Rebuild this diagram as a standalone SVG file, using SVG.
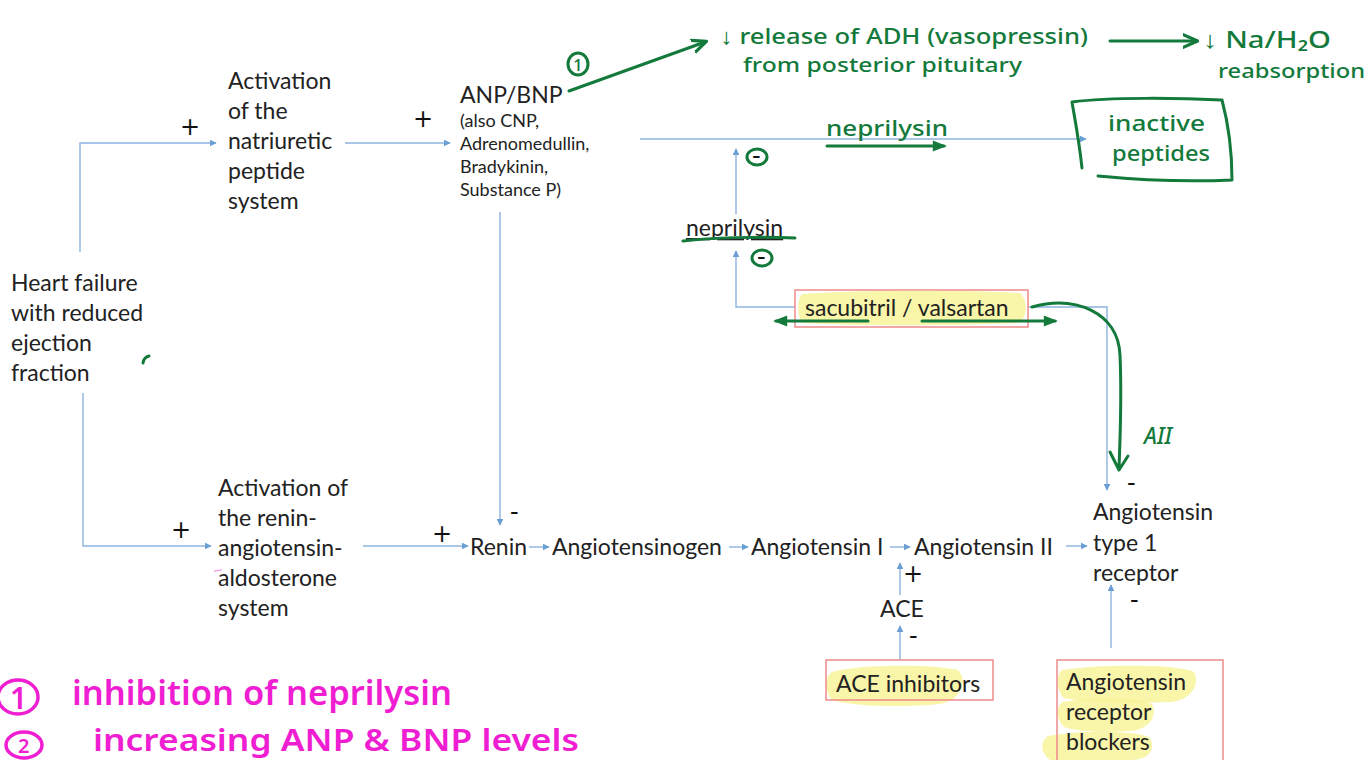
<svg xmlns="http://www.w3.org/2000/svg" width="1368" height="760" viewBox="0 0 1368 760">
<defs>
<marker id="ab" viewBox="0 0 10 10" refX="9" refY="5" markerWidth="7" markerHeight="7" markerUnits="userSpaceOnUse" orient="auto">
<path d="M0,0 L10,5 L0,10 z" fill="#6a9fd4"/>
</marker>
<marker id="ag" viewBox="0 0 10 10" refX="8" refY="5" markerWidth="16" markerHeight="16" markerUnits="userSpaceOnUse" orient="auto">
<path d="M0,1 L9,5 L0,9" fill="none" stroke="#137a3b" stroke-width="2" stroke-linecap="round" stroke-linejoin="round"/>
</marker>
<marker id="agf" viewBox="0 0 10 10" refX="8" refY="5" markerWidth="16" markerHeight="14" markerUnits="userSpaceOnUse" orient="auto">
<path d="M0,1 L10,5 L0,9 z" fill="#137a3b"/>
</marker>
</defs>
<style>
.t{font-family:Lato,"Open Sans",sans-serif;font-size:23px;fill:#222}
.s{font-family:Lato,"Open Sans",sans-serif;font-size:18px;fill:#222}
.pm{font-family:"DejaVu Sans",sans-serif;font-size:24px;fill:#111}
.c{fill:none;stroke:#8db3df;stroke-width:1.4;marker-end:url(#ab)}
.g{font-family:"Noto Sans",sans-serif;font-weight:500;fill:#137a3b}
.gl{fill:none;stroke:#137a3b;stroke-width:3;stroke-linecap:round;stroke-linejoin:round}
.p{font-family:"Noto Sans",sans-serif;font-weight:600;fill:#f01ed2}
.pl{fill:none;stroke:#f01ed2;stroke-width:3.5}
.rb{fill:none;stroke:#ee8a8a;stroke-width:1.5}
.hl{fill:#f8f39a;opacity:0.85}
</style>

<g id="connectors">
<path class="c" d="M80,252 V143 H216"/>
<path class="c" d="M83,393 V546 H211"/>
<path class="c" d="M345,143 H450"/>
<path class="c" d="M500,212 V525"/>
<path class="c" d="M363,546 H468"/>
<path class="c" d="M529,547 H549"/>
<path class="c" d="M729,547 H748"/>
<path class="c" d="M890,547 H910"/>
<path class="c" d="M1066,546 H1087"/>
<path class="c" d="M900,595 V563"/>
<path class="c" d="M900,660 V626"/>
<path class="c" d="M1111,648 V585"/>
<path class="c" d="M795,307 H736 V251"/>
<path class="c" d="M736,214 V149"/>
<path class="c" d="M640,139 H1086"/>
<path class="c" d="M1028,307 H1107 V490"/>
</g>

<g id="hf">
<text class="t" x="11" y="291">Heart failure</text>
<text class="t" x="11" y="321">with reduced</text>
<text class="t" x="11" y="351">ejection</text>
<text class="t" x="11" y="381">fraction</text>
</g>

<g id="nps">
<text class="t" x="228" y="89">Activation</text>
<text class="t" x="228" y="119">of the</text>
<text class="t" x="228" y="149">natriuretic</text>
<text class="t" x="228" y="179">peptide</text>
<text class="t" x="228" y="209">system</text>
</g>

<g id="anp">
<text class="t" x="460" y="103">ANP/BNP</text>
<text class="s" x="460" y="127">(also CNP,</text>
<text class="s" x="460" y="150">Adrenomedullin,</text>
<text class="s" x="460" y="173">Bradykinin,</text>
<text class="s" x="460" y="196">Substance P)</text>
</g>

<g id="raas">
<text class="t" x="218" y="496">Activation of</text>
<text class="t" x="218" y="526">the renin-</text>
<text class="t" x="218" y="556">angiotensin-</text>
<text class="t" x="218" y="586">aldosterone</text>
<text class="t" x="218" y="616">system</text>
</g>

<g id="renin"><text class="t" x="470" y="555">Renin</text></g>
<g id="angiotensinogen"><text class="t" x="552" y="555">Angiotensinogen</text></g>
<g id="ang1"><text class="t" x="751" y="555">Angiotensin I</text></g>
<g id="ang2"><text class="t" x="914" y="555">Angiotensin II</text></g>

<g id="at1r">
<text class="t" x="1093" y="520">Angiotensin</text>
<text class="t" x="1093" y="551">type 1</text>
<text class="t" x="1093" y="581">receptor</text>
</g>

<g id="ace"><text class="t" x="880" y="617">ACE</text></g>

<g id="acei">
<path class="hl" d="M832,672 C860,664 930,664 958,670 C968,680 962,700 940,704 C900,708 850,706 832,700 C824,690 824,678 832,672 z"/>
<rect class="rb" x="826" y="660" width="167" height="40"/>
<text class="t" x="836" y="692">ACE inhibitors</text>
</g>

<g id="arb">
<path class="hl" d="M1062,670 C1100,664 1180,664 1194,672 C1200,684 1192,700 1170,702 C1130,704 1080,702 1064,698 C1056,690 1056,676 1062,670 z"/>
<path class="hl" d="M1062,702 C1090,697 1140,697 1152,704 C1158,714 1150,730 1130,731 C1100,733 1075,731 1064,727 C1056,718 1056,708 1062,702 z"/>
<path class="hl" d="M1048,736 C1080,730 1140,730 1150,738 C1156,748 1150,760 1130,760 L1050,760 C1040,752 1040,742 1048,736 z"/>
<path class="rb" d="M1057,760 V660 H1223 V760"/>
<text class="t" x="1066" y="690">Angiotensin</text>
<text class="t" x="1066" y="720">receptor</text>
<text class="t" x="1066" y="750">blockers</text>
</g>

<g id="neprilysin">
<text class="t" x="686" y="236" text-decoration="underline">neprilysin</text>
<path class="gl" d="M683,241 C710,238 760,236 795,238"/>
</g>

<g id="sacval">
<rect class="rb" x="795" y="290" width="233" height="37"/>
<path class="hl" d="M802,294 C860,290 960,290 1020,293 C1028,300 1028,318 1018,323 C950,326 860,326 802,323 C797,314 797,300 802,294 z"/>
<text class="t" x="805" y="316">sacubitril / valsartan</text>
</g>

<g id="signs">
<text class="pm" x="180" y="135">+</text>
<text class="pm" x="413" y="127">+</text>
<text class="pm" x="171" y="538">+</text>
<text class="pm" x="432" y="542">+</text>
<text class="pm" x="903" y="582">+</text>
<text class="pm" x="510" y="520">-</text>
<text class="pm" x="1127" y="491">-</text>
<text class="pm" x="1130" y="608">-</text>
<text class="pm" x="909" y="644">-</text>
</g>

<g id="annotations-green">
<path class="gl" d="M569,91 L705,42" marker-end="url(#ag)"/>
<ellipse class="gl" cx="578" cy="64" rx="10" ry="11"/>
<text class="g" x="573" y="71" font-size="17">1</text>
<text class="g" x="720" y="44" font-size="22" textLength="368" lengthAdjust="spacingAndGlyphs">↓ release of ADH (vasopressin)</text>
<text class="g" x="743" y="72" font-size="20" textLength="279" lengthAdjust="spacingAndGlyphs">from posterior pituitary</text>
<path class="gl" d="M1110,41 L1196,41" marker-end="url(#ag)"/>
<text class="g" x="1203" y="48" font-size="24" textLength="128" lengthAdjust="spacingAndGlyphs">↓ Na/H₂O</text>
<text class="g" x="1218" y="78" font-size="20" textLength="147" lengthAdjust="spacingAndGlyphs">reabsorption</text>
<text class="g" x="826" y="136" font-size="21" textLength="122" lengthAdjust="spacingAndGlyphs">neprilysin</text>
<path class="gl" d="M827,146 L944,146" stroke-width="4" marker-end="url(#agf)"/>
<path class="gl" d="M1072,102 C1110,97 1180,98 1222,100 C1230,130 1232,160 1232,180 C1190,182 1140,180 1098,176 M1082,168 C1079,140 1075,120 1072,102"/>
<text class="g" x="1108" y="131" font-size="21" textLength="97" lengthAdjust="spacingAndGlyphs">inactive</text>
<text class="g" x="1112" y="161" font-size="21" textLength="98" lengthAdjust="spacingAndGlyphs">peptides</text>
<ellipse class="gl" cx="757" cy="157" rx="10" ry="8" stroke-width="2.5"/>
<text class="pm" x="752" y="164" font-size="18">-</text>
<ellipse class="gl" cx="762" cy="258" rx="10" ry="8" stroke-width="2.5"/>
<text class="pm" x="757" y="265" font-size="18">-</text>
<path class="gl" d="M868,321 L776,321" marker-end="url(#agf)"/>
<path class="gl" d="M922,321 L1055,321" marker-end="url(#agf)"/>
<path class="gl" d="M1032,307 C1075,295 1118,312 1120,355 C1122,400 1120,440 1119,468 M1110,452 L1119,470 L1128,456"/>
<text class="g" x="1144" y="444" font-size="24" font-style="italic" textLength="28" lengthAdjust="spacingAndGlyphs">AII</text>
<path class="gl" d="M143,363 Q144,357 149,356" stroke-width="2.5"/>
</g>

<g id="annotations-pink">
<ellipse class="pl" cx="18" cy="697" rx="20" ry="17"/>
<text class="p" x="10" y="709" font-size="30">1</text>
<text class="p" x="72" y="705" font-size="34" textLength="380" lengthAdjust="spacingAndGlyphs">inhibition of neprilysin</text>
<ellipse class="pl" cx="24" cy="745" rx="18" ry="13"/>
<text class="p" x="18" y="753" font-size="20">2</text>
<text class="p" x="93" y="751" font-size="31" textLength="486" lengthAdjust="spacingAndGlyphs">increasing ANP &amp; BNP levels</text>
<path d="M214,571 L222,570" stroke="#f7a8e8" stroke-width="1.5"/>
</g>
</svg>
